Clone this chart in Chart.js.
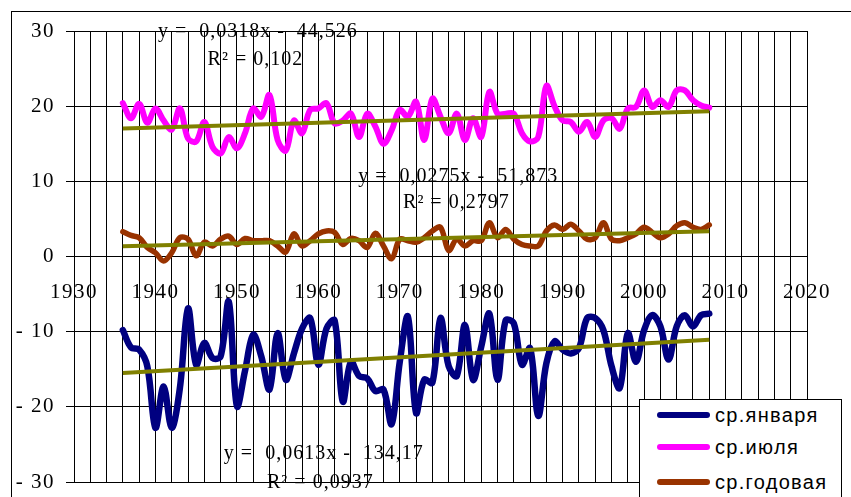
<!DOCTYPE html>
<html>
<head>
<meta charset="utf-8">
<script src="https://cdn.jsdelivr.net/npm/chart.js@4"></script>
<style>
  html, body { margin: 0; padding: 0; background: #fff; overflow: hidden; }
  #wrap { position: relative; width: 851px; height: 497px; overflow: hidden; }
  #legend { position: absolute; left: 639px; top: 399px; width: 203px; height: 120px;
            background: #fff; border: 1px solid #000; box-sizing: border-box;
            font-family: 'Liberation Sans', Arial, sans-serif; font-size: 20px; letter-spacing: 1.3px; color: #000; }
  .item { position: absolute; left: 0; height: 24px; width: 200px; }
  .swatch { position: absolute; left: 17px; top: 9px; width: 53px; height: 6px; border-radius: 3px; }
  .lab { position: absolute; left: 75px; top: 0px; line-height: 24px; white-space: nowrap; }
</style>
</head>
<body>
<div id="wrap">
  <canvas id="c" width="851" height="497"></canvas>
  <div id="legend"></div>
</div>
<script>
// ---- data ----
const years = [];
for (let y = 1936; y <= 2008; y++) years.push(y);

const seriesNames = ['ср.января', 'ср.июля', 'ср.годовая'];

const janValues = [
  -9.8, -12.1, -12.4, -14.6, -22.8, -17.3, -22.8, -17.5, -6.9, -14.4,
  -11.5, -13.5, -13.3, -6.0, -19.9, -15.2, -10.4, -13.3, -17.7, -10.2,
  -16.4, -12.9, -9.6, -8.2, -14.4, -9.6, -8.5, -19.3, -14.0, -15.9,
  -16.2, -17.9, -17.7, -22.3, -14.0, -8.0, -20.8, -16.4, -16.8, -8.2,
  -14.6, -15.9, -9.1, -16.4, -12.0, -7.6, -16.4, -8.5, -8.9, -14.4,
  -12.2, -21.2, -14.2, -11.3, -12.4, -12.9, -12.2, -8.2, -8.2, -9.8,
  -14.6, -17.5, -10.2, -14.0, -9.8, -7.8, -9.3, -13.7, -9.3, -7.8,
  -9.3, -7.8, -7.6
];

const julValues = [
  20.4, 18.4, 20.3, 17.8, 19.7, 18.1, 16.9, 19.7, 15.7, 15.3,
  17.9, 14.6, 13.7, 15.9, 14.4, 16.4, 19.7, 18.6, 21.5, 15.5,
  14.1, 18.1, 16.4, 19.5, 19.7, 20.4, 17.7, 18.1, 19.0, 15.9,
  19.0, 17.3, 15.0, 16.8, 19.5, 18.6, 20.6, 15.5, 21.0, 18.6,
  16.4, 19.0, 15.5, 18.4, 15.9, 21.9, 19.0, 19.0, 19.0, 16.4,
  15.3, 15.9, 22.7, 20.0, 18.1, 17.9, 16.6, 17.9, 15.9, 18.1,
  18.4, 17.0, 19.7, 19.9, 22.1, 19.9, 20.8, 19.9, 22.1, 22.1,
  20.8, 20.1, 19.8
];

const annValues = [
  3.3, 2.8, 2.5, 1.2, 0.5, -0.6, 0.5, 2.5, 2.3, 0.1,
  1.9, 1.4, 2.3, 2.7, 1.6, 2.4, 2.1, 2.1, 2.1, 1.4,
  0.6, 3.0, 1.4, 2.1, 3.0, 3.4, 3.2, 1.6, 2.4, 2.1,
  1.2, 3.1, 1.4, -0.3, 2.3, 2.1, 1.9, 2.5, 3.4, 3.9,
  0.8, 2.3, 1.4, 2.1, 2.1, 4.5, 2.5, 3.6, 2.3, 1.6,
  1.4, 1.4, 3.4, 4.2, 3.6, 4.3, 3.4, 2.3, 2.5, 4.5,
  2.3, 2.1, 2.5, 3.0, 3.9, 3.2, 2.5, 3.0, 4.1, 4.5,
  3.9, 3.6, 4.2
];

// linear trend equations shown on the chart (jan, jul, annual)
const trendSlopes = [0.0613, 0.0318, 0.0275];
const trendIntercepts = [-134.17, -44.526, -51.873];
const trendTexts = [
  ['y =  0,0613x -  134,17', 'R² = 0,0937'],
  ['y =  0,0318x -  44,526', 'R² = 0,102'],
  ['y =  0,0275x -  51,873', 'R² = 0,2797']
];

const xTickMin = 1930, xTickMax = 2020, xStep = 2, xLabelStep = 10;
const yTickMin = -30, yTickMax = 30, yStep = 10;

// ---- styling / placement ----
const seriesColors = ['#000080', '#FF00FF', '#993300'];
const seriesWidths = [6.5, 6, 5.5];
const trendColor = '#808000';
// anchors of equation labels in data coordinates [x, baseline y] (eq line, R² line)
const textAnchors = [
  [[1948.4, -26.98], [1953.7, -30.84]],
  [[1940.3, 29.16], [1946.4, 25.48]],
  [[1964.9, 9.95], [1970.4, 6.41]]
];

const seriesData = [janValues, julValues, annValues];
const pts = vals => years.map((y, i) => ({ x: y, y: vals[i] }));

const datasets = [];
// trend lines first so they are drawn on top
for (let k = 0; k < 3; k++) {
  const x0 = years[0], x1 = years[years.length - 1];
  datasets.push({
    label: 'trend ' + seriesNames[k],
    data: [{ x: x0, y: trendSlopes[k] * x0 + trendIntercepts[k] },
           { x: x1, y: trendSlopes[k] * x1 + trendIntercepts[k] }],
    borderColor: trendColor, borderWidth: 4, tension: 0, pointRadius: 0,
    borderCapStyle: 'butt'
  });
}
for (let k = 0; k < 3; k++) {
  datasets.push({
    label: seriesNames[k],
    data: pts(seriesData[k]),
    borderColor: seriesColors[k], borderWidth: seriesWidths[k],
    tension: 0.35, pointRadius: 0, borderCapStyle: 'round', borderJoinStyle: 'round'
  });
}

const framePlugin = {
  id: 'frame',
  beforeDraw(chart) {
    const c = chart.ctx;
    c.save();
    c.fillStyle = '#fff';
    c.fillRect(0, 0, chart.width, chart.height);
    c.strokeStyle = '#000';
    c.lineWidth = 1;
    c.strokeRect(11.5, 11.5, 900, 600);
    c.restore();
    c.letterSpacing = '1.5px';
  },
  afterDraw(chart) {
    const c = chart.ctx;
    const xs = chart.scales.x, ys = chart.scales.y;
    c.save();
    c.letterSpacing = '1px';
    c.fillStyle = '#000';
    c.font = '20px "Liberation Serif", "Times New Roman", serif';
    c.textAlign = 'left';
    c.textBaseline = 'alphabetic';
    for (let k = 0; k < 3; k++) {
      for (let j = 0; j < 2; j++) {
        const a = textAnchors[k][j];
        c.fillText(trendTexts[k][j], xs.getPixelForValue(a[0]), ys.getPixelForValue(a[1]));
      }
    }
    c.restore();
  }
};

const tickFont = { family: '"Liberation Serif", "Times New Roman", serif', size: 21 };

new Chart(document.getElementById('c'), {
  type: 'line',
  data: { datasets },
  options: {
    responsive: false,
    animation: false,
    devicePixelRatio: 1,
    layout: { padding: { top: 31, right: 25, bottom: 15, left: 0 } },
    plugins: { legend: { display: false }, tooltip: { enabled: false } },
    elements: { point: { radius: 0 } },
    scales: {
      x: {
        type: 'linear',
        position: { y: 0 },
        min: xTickMin, max: xTickMax,
        ticks: {
          stepSize: xStep, autoSkip: false, maxRotation: 0, minRotation: 0,
          callback: v => (v % xLabelStep === 0 ? String(v) : ''),
          font: tickFont, color: '#000', padding: 23
        },
        grid: { color: '#000', lineWidth: 1, drawTicks: false },
        border: { color: '#000', width: 1 },
        afterFit: s => { s.height = 0; s.paddingTop = 0; s.paddingBottom = 0; }
      },
      y: {
        min: yTickMin, max: yTickMax,
        ticks: {
          stepSize: yStep,
          callback: v => (v < 0 ? '- ' + Math.abs(v) : String(v)),
          font: tickFont, color: '#000', padding: 11
        },
        grid: { color: '#000', lineWidth: 1, tickLength: 8, tickColor: '#000' },
        border: { color: '#000', width: 1 },
        afterFit: s => { s.width = 74; s.paddingTop = 0; s.paddingBottom = 0; }
      }
    }
  },
  plugins: [framePlugin]
});

// legend built from series names/colours
const leg = document.getElementById('legend');
const rowTops = [3, 35, 70];
seriesNames.forEach((n, i) => {
  const it = document.createElement('div');
  it.className = 'item';
  it.style.top = rowTops[i] + 'px';
  const sw = document.createElement('div');
  sw.className = 'swatch';
  sw.style.background = seriesColors[i];
  const lb = document.createElement('div');
  lb.className = 'lab';
  lb.textContent = n;
  it.appendChild(sw); it.appendChild(lb);
  leg.appendChild(it);
});
</script>
</body>
</html>
